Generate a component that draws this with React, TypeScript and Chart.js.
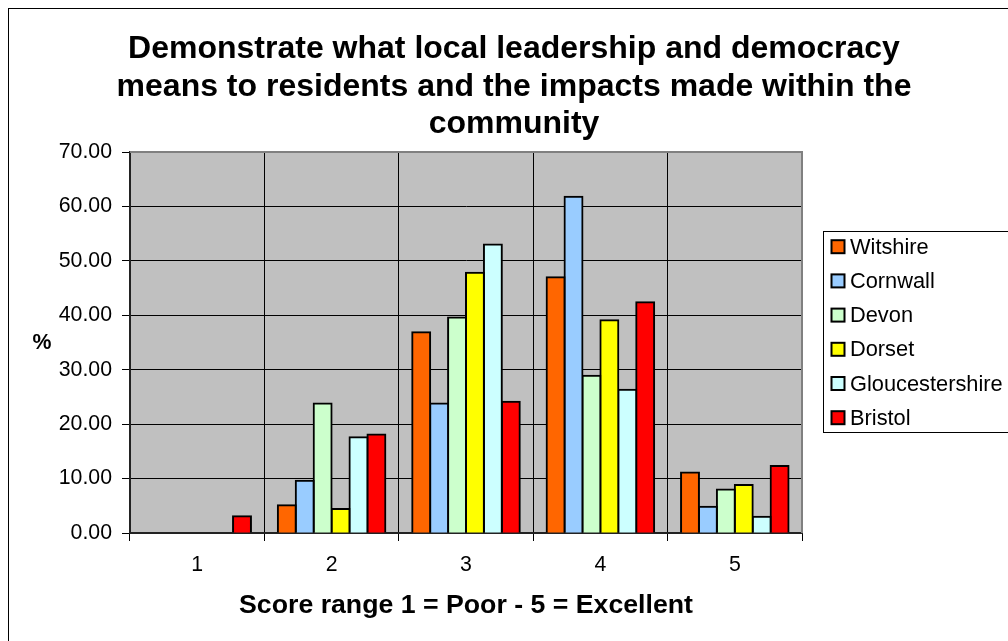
import React, { useEffect, useRef } from "react";
import { Chart, registerables } from "chart.js";

Chart.register(...registerables);

const FONT = '"Liberation Sans", Arial, sans-serif';

const categories = ["1", "2", "3", "4", "5"];
const seriesNames = ["Witshire", "Cornwall", "Devon", "Dorset", "Gloucestershire", "Bristol"];
const witshire = [0, 5.1, 36.9, 47.0, 11.1];
const cornwall = [0, 9.6, 23.8, 61.8, 4.8];
const devon = [0, 23.8, 39.6, 28.9, 8.0];
const dorset = [0, 4.4, 47.8, 39.1, 8.8];
const gloucestershire = [0, 17.6, 53.0, 26.3, 3.0];
const bristol = [3.1, 18.1, 24.1, 42.4, 12.3];
const seriesColors = ["#FF6600", "#99CCFF", "#CCFFCC", "#FFFF00", "#CCFFFF", "#FF0000"];

const titleLines = [
  "Demonstrate what local leadership and democracy",
  "means to residents and the impacts made within the",
  "community",
];
const xAxisTitle = "Score range 1 = Poor - 5 = Excellent";
const yAxisTitle = "%";
const yMin = 0;
const yMax = 70;
const yStep = 10;

const decorPlugin = {
  id: "decor",
  beforeDraw(chart: any) {
    const { ctx, chartArea: a } = chart;
    ctx.save();
    ctx.fillStyle = "#FFFFFF";
    ctx.fillRect(0, 0, chart.width, chart.height);
    ctx.fillStyle = "#C0C0C0";
    ctx.fillRect(a.left, a.top, a.right - a.left, a.bottom - a.top);
    ctx.strokeStyle = "#000000";
    ctx.lineWidth = 1;
    ctx.strokeRect(8.5, 8.5, 1011, 645);
    ctx.restore();
  },
  beforeDatasetsDraw(chart: any) {
    const { ctx, chartArea: a } = chart;
    ctx.save();
    ctx.strokeStyle = "#808080";
    ctx.lineWidth = 2;
    ctx.beginPath();
    ctx.moveTo(a.left, a.top);
    ctx.lineTo(a.right, a.top);
    ctx.lineTo(a.right, a.bottom);
    ctx.stroke();
    ctx.restore();
  },
  afterDraw(chart: any) {
    const { ctx } = chart;
    ctx.save();
    // title
    ctx.fillStyle = "#000000";
    ctx.font = `bold 32px ${FONT}`;
    ctx.textAlign = "center";
    ctx.textBaseline = "alphabetic";
    const baselines = [58, 95.5, 133];
    titleLines.forEach((t, i) => ctx.fillText(t, 514, baselines[i]));
    // y axis title (horizontal)
    ctx.font = `bold 21.3px ${FONT}`;
    ctx.textBaseline = "middle";
    ctx.fillText(yAxisTitle, 42, 343);
    // legend
    const lx = 823.5;
    const ly = 231.5;
    ctx.strokeStyle = "#000000";
    ctx.lineWidth = 1;
    ctx.strokeRect(lx, ly, 200, 201);
    ctx.font = `21.8px ${FONT}`;
    ctx.textAlign = "left";
    chart.data.datasets.forEach((ds: any, i: number) => {
      const cy = 246.7 + i * 34.2;
      ctx.fillStyle = ds.backgroundColor;
      ctx.fillRect(831.5, cy - 6.5, 13, 13);
      ctx.strokeStyle = "#000000";
      ctx.lineWidth = 2;
      ctx.strokeRect(831.5, cy - 6.5, 13, 13);
      ctx.fillStyle = "#000000";
      ctx.fillText(ds.label, 850, cy + 1);
    });
    ctx.restore();
  },
};

export default function App() {
  const ref = useRef<HTMLCanvasElement | null>(null);

  useEffect(() => {
    if (!ref.current) return;
    const values = [witshire, cornwall, devon, dorset, gloucestershire, bristol];
    const chart = new Chart(ref.current, {
      type: "bar",
      data: {
        labels: categories,
        datasets: seriesNames.map((name, i) => ({
          label: name,
          data: values[i],
          backgroundColor: seriesColors[i],
          borderColor: "#000000",
          borderWidth: 2,
          inflateAmount: 1,
          categoryPercentage: 0.8,
          barPercentage: 1.0,
        })),
      },
      options: {
        responsive: false,
        animation: false,
        devicePixelRatio: 1,
        layout: { padding: { left: 8, top: 152, right: 228, bottom: 27 } },
        plugins: {
          legend: { display: false },
          title: { display: false },
          tooltip: { enabled: false },
        },
        scales: {
          x: {
            grid: {
              display: true,
              offset: true,
              color: "#000000",
              lineWidth: 1,
              tickLength: 8,
              tickColor: "#000000",
            },
            border: { display: true, color: "#222222", width: 2 },
            ticks: {
              color: "#000000",
              font: { family: FONT, size: 21.3 },
              padding: 11,
              maxRotation: 0,
            },
            title: {
              display: true,
              text: xAxisTitle,
              color: "#000000",
              font: { family: FONT, size: 26.7, weight: "bold" },
              padding: { top: 0, bottom: 11 },
            },
            afterFit(scale: any) {
              scale.height = 100;
            },
          },
          y: {
            min: yMin,
            max: yMax,
            grid: {
              color: "#000000",
              lineWidth: 1,
              tickLength: 8,
              tickColor: "#000000",
            },
            border: { display: true, color: "#222222", width: 2 },
            ticks: {
              stepSize: yStep,
              color: "#000000",
              font: { family: FONT, size: 21.3 },
              padding: 10,
              callback: (v: any) => Number(v).toFixed(2),
            },
            afterFit(scale: any) {
              scale.width = 122;
            },
          },
        },
      },
      plugins: [decorPlugin],
    });
    return () => chart.destroy();
  }, []);

  return (
    <div
      style={{
        position: "fixed",
        left: 0,
        top: 0,
        width: 1008,
        height: 641,
        overflow: "hidden",
        background: "#FFFFFF",
      }}
    >
      <canvas ref={ref} width={1030} height={660} style={{ display: "block" }} />
    </div>
  );
}
